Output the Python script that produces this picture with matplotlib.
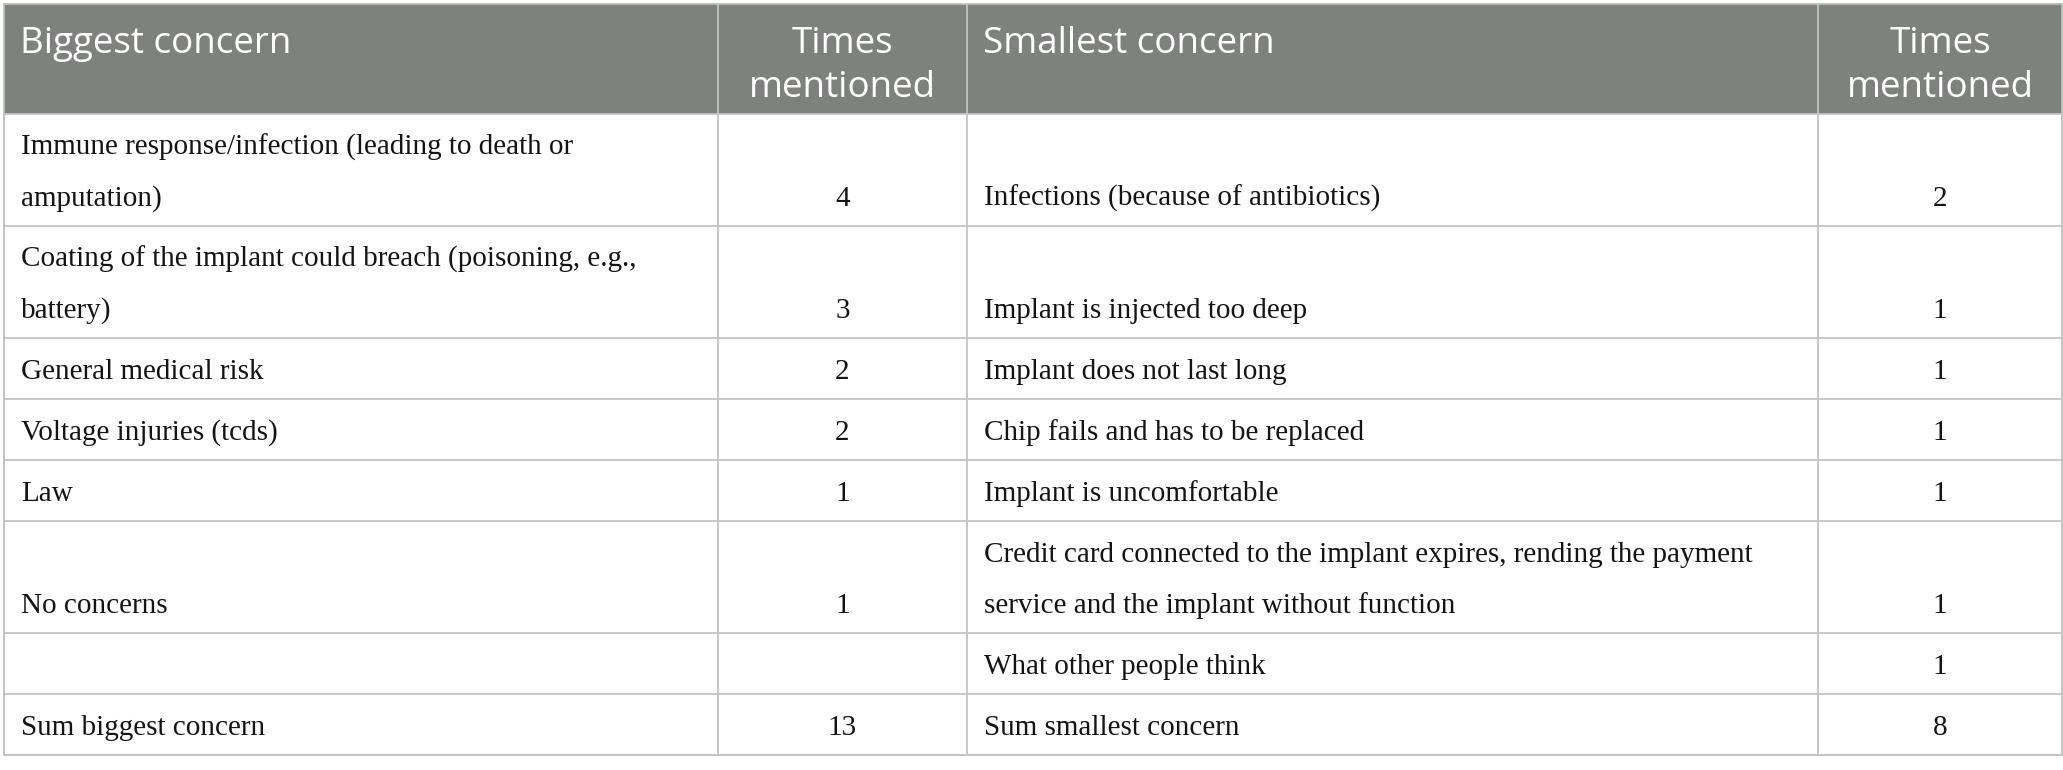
import matplotlib.pyplot as plt
from matplotlib.patches import Rectangle

# Table content
header = ["Biggest concern", "Times\nmentioned", "Smallest concern", "Times\nmentioned"]
biggest = ["Immune response/infection (leading to death or\namputation)",
           "Coating of the implant could breach (poisoning, e.g.,\nbattery)",
           "General medical risk",
           "Voltage injuries (tcds)",
           "Law",
           "No concerns",
           "",
           "Sum biggest concern"]
biggest_n = ["4", "3", "2", "2", "1", "1", "", "13"]
smallest = ["Infections (because of antibiotics)",
            "Implant is injected too deep",
            "Implant does not last long",
            "Chip fails and has to be replaced",
            "Implant is uncomfortable",
            "Credit card connected to the implant expires, rending the payment\nservice and the implant without function",
            "What other people think",
            "Sum smallest concern"]
smallest_n = ["2", "1", "1", "1", "1", "1", "1", "8"]

# Layout (pixels)
W, H = 2063, 770
col_x = [4, 718, 967, 1818, 2062]
top, head_h = 4, 110
line_h = 51
grid_c = "#c4c4c4"
head_c = "#7f817f"

fig = plt.figure(figsize=(W / 100, H / 100), dpi=100)
ax = fig.add_axes([0, 0, 1, 1])
ax.set_xlim(0, W)
ax.set_ylim(H, 0)
ax.axis("off")

# row boundaries from number of lines in each row
rows = list(zip(biggest, biggest_n, smallest, smallest_n))
row_y = [top, top + head_h]
for r in rows:
    n = max(c.count("\n") + 1 for c in r)
    row_y.append(row_y[-1] + 10 + line_h * n)


def cell_x(j, centered):
    return (col_x[j] + col_x[j + 1]) / 2 if centered else col_x[j] + 17


# header (top aligned)
ax.add_patch(Rectangle((col_x[0], top), col_x[-1] - col_x[0], head_h,
                       facecolor=head_c, edgecolor="none"))
for j, txt in enumerate(header):
    centered = j in (1, 3)
    for k, line in enumerate(txt.split("\n")):
        ax.text(cell_x(j, centered) + (0 if centered else -1), top + 49 + 44 * k, line,
                color="white", fontsize=26.5, family="Open Sans",
                ha="center" if centered else "left", va="baseline")

# body cells, bottom aligned
for i, r in enumerate(rows):
    y1 = row_y[i + 2]
    for j, txt in enumerate(r):
        if not txt:
            continue
        lines = txt.split("\n")
        centered = j in (1, 3)
        for k, line in enumerate(lines):
            ax.text(cell_x(j, centered), y1 - 20 - (len(lines) - 1 - k) * line_h, line,
                    color="#141414", fontsize=21, family="Liberation Serif",
                    ha="center" if centered else "left", va="baseline")

# grid lines
for y in row_y[1:]:
    ax.plot([col_x[0], col_x[-1]], [y, y], color=grid_c, lw=1.3, solid_capstyle="butt")
for x in col_x[1:-1]:
    ax.plot([x, x], [row_y[0], row_y[-1]], color=grid_c, lw=1.3)
ax.add_patch(Rectangle((col_x[0], top), col_x[-1] - col_x[0], row_y[-1] - top,
                       facecolor="none", edgecolor="#bdbdbd", lw=1.3))

fig.savefig("out.png", dpi=100, facecolor="white")
